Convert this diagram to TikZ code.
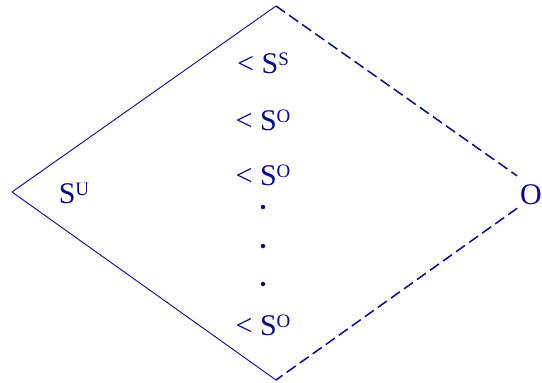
\documentclass[tikz,border=0pt]{standalone}
\usepackage{fontspec}
\setmainfont{Liberation Serif}
\definecolor{navy}{RGB}{10,10,130}
\newcommand{\SupLbl}[1]{S\raisebox{8pt}{\fontsize{19}{19}\selectfont #1}}
\tikzset{
  edge/.style={draw=navy, line width=0.9pt},
  dashedge/.style={draw=navy, line width=1.5pt, dash pattern=on 11pt off 5pt},
  lbl/.style={text=navy, font=\fontsize{30}{31}\selectfont, inner sep=0pt, anchor=base},
  dotnode/.style={circle, fill=navy, inner sep=0pt, minimum size=4.5pt}
}
\begin{document}
\begin{tikzpicture}[x=1pt,y=-1pt]
  \useasboundingbox (0,0) rectangle (542,383);
  \coordinate (L) at (12,192);
  \coordinate (T) at (276,6);
  \coordinate (B) at (276,380);
  \coordinate (R) at (540,192);
  \node[lbl, anchor=base east] (O) at (542,204) {O};
  \node[lbl] (SU) at (74,203) {\SupLbl{U}};
  \node[lbl] (l1) at (263,73) {< \SupLbl{S}};
  \node[lbl] (l2) at (263,130) {< \SupLbl{O}};
  \node[lbl] (l3) at (263,185) {< \SupLbl{O}};
  \node[dotnode] (d1) at (263,207) {};
  \node[dotnode] (d2) at (263,246) {};
  \node[dotnode] (d3) at (263,284) {};
  \node[lbl] (l4) at (263,335) {< \SupLbl{O}};
  \draw[edge] (L) -- (T);
  \draw[edge] (L) -- (B);
  \draw[dashedge, shorten >=28pt] (T) -- (R);
  \draw[dashedge, shorten <=28pt] (R) -- (B);
\end{tikzpicture}
\end{document}
